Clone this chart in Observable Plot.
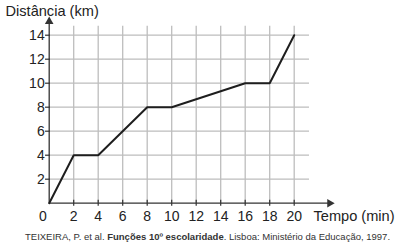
<!DOCTYPE html>
<html>
<head>
<meta charset="utf-8">
<script src="https://cdn.jsdelivr.net/npm/d3@7"></script>
<script src="https://cdn.jsdelivr.net/npm/@observablehq/plot@0.6"></script>
<style>
  html, body { margin: 0; padding: 0; background: #fff; }
  #chart svg { display: block; }
  #caption { font-family: "Liberation Sans", Arial, sans-serif; font-size: 9.5px; color: #333; padding-left: 25px; height: 18px; line-height: 18px; white-space: nowrap; }
</style>
</head>
<body>
<div id="chart"></div>
<div id="caption">TEIXEIRA, P. et al. <b>Funções 10º escolaridade</b>. Lisboa: Ministério da Educação, 1997.</div>
<script>
const tempo = [0, 2, 4, 8, 10, 16, 18, 20];
const distancia = [0, 4, 4, 8, 8, 10, 10, 14];
const xTicks = [0, 2, 4, 6, 8, 10, 12, 14, 16, 18, 20];
const yTicks = [2, 4, 6, 8, 10, 12, 14];
const xGrid = [2, 4, 6, 8, 10, 12, 14, 16, 18, 20];
const yGrid = [2, 4, 6, 8, 10, 12, 14];
const xLabel = "Tempo (min)";
const yLabel = "Distância (km)";

const pts = tempo.map((t, i) => ({t, d: distancia[i]}));
const font = "Liberation Sans, Arial, sans-serif";
const ink = "#222";

const plot = Plot.plot({
  width: 400,
  height: 228,
  marginTop: 0, marginLeft: 0, marginRight: 0, marginBottom: 0,
  x: {type: "linear", domain: [0, 20], range: [48.7, 293.7], axis: null},
  y: {type: "linear", domain: [0, 14], range: [202.7, 34.7], axis: null},
  style: {fontFamily: font, background: "#fff"},
  marks: [
    Plot.ruleX(xGrid, {x: d => d, y1: () => 0, y2: () => 14.75, stroke: "#bdbdbd", strokeWidth: 1.3}),
    Plot.ruleY(yGrid, {y: d => d, x1: () => 0, x2: () => 21.25, stroke: "#bdbdbd", strokeWidth: 1.3}),
    // axes
    Plot.ruleY([0], {y: d => d, x1: () => 0, x2: () => 22.8, stroke: "#333", strokeWidth: 1.3}),
    Plot.ruleX([0], {x: d => d, y1: () => 0, y2: () => 15.0, stroke: "#333", strokeWidth: 1.3}),
    Plot.dot([{x: 22.9, y: 0}], {x: "x", y: "y", symbol: "triangle", r: 3.2, fill: "#333", stroke: null, rotate: 90}),
    Plot.dot([{x: 0, y: 15.15}], {x: "x", y: "y", symbol: "triangle", r: 3.2, fill: "#333", stroke: null}),
    // ticks
    Plot.ruleX(xTicks.filter(d => d > 0), {x: d => d, y1: () => -0.25, y2: () => 0.25, stroke: "#333", strokeWidth: 1.2}),
    Plot.ruleY(yTicks, {y: d => d, x1: () => -0.3, x2: () => 0.1, stroke: "#333", strokeWidth: 1.2}),
    // data line
    Plot.line(pts, {x: "t", y: "d", stroke: "#1e1e1e", strokeWidth: 2, strokeLinejoin: "miter"}),
    // tick labels
    Plot.text(xTicks.filter(d => d > 0), {x: d => d, y: () => 0, text: d => String(d), dy: 13, fontSize: 14, fill: ink}),
    Plot.text(xTicks.filter(d => d === 0), {x: d => d, y: () => 0, text: d => String(d), dy: 13, dx: -6.4, fontSize: 14, fill: ink}),
    Plot.text(yTicks, {x: () => 0, y: d => d, text: d => String(d), dx: -4.5, textAnchor: "end", fontSize: 14, fill: ink}),
    // axis labels
    Plot.text([yLabel], {frameAnchor: "top-left", text: d => d, dx: 5, dy: 11, textAnchor: "start", lineAnchor: "middle", fontSize: 14.6, fill: ink}),
    Plot.text([xLabel], {frameAnchor: "top-left", text: d => d, dx: 313, dy: 215.7, textAnchor: "start", lineAnchor: "middle", fontSize: 14.6, fill: ink})
  ]
});
document.getElementById("chart").appendChild(plot);
</script>
</body>
</html>
